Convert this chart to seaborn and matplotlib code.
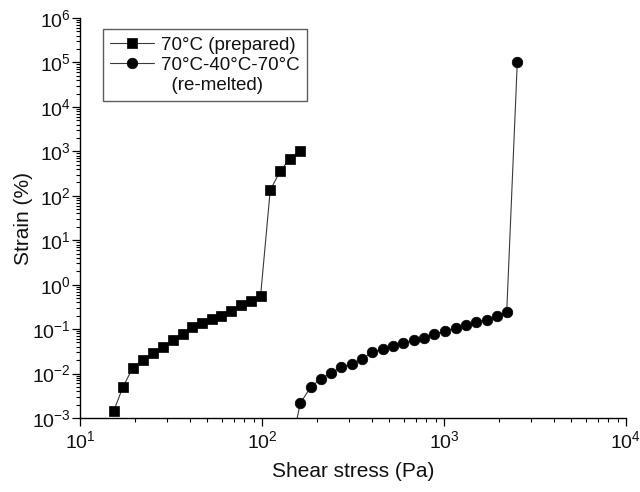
import numpy as np
import pandas as pd
import matplotlib
matplotlib.use("Agg")
import matplotlib.pyplot as plt
from matplotlib.lines import Line2D
from matplotlib.ticker import LogLocator, NullFormatter
import seaborn as sns

# Data
prep_stress = [15.3, 17.2, 19.5, 22.1, 25.1, 28.5, 32.4, 36.6, 41.3, 46.9, 53.1, 59.9,
               67.8, 76.9, 86.9, 98.2, 111, 126, 142, 161]
prep_strain = [0.00142, 0.00494, 0.0135, 0.0205, 0.0288, 0.0387, 0.0556, 0.076, 0.111,
               0.136, 0.168, 0.200, 0.254, 0.347, 0.436, 0.545, 133, 362, 664, 1042]

remelt_stress = [143, 162.5, 185, 211, 240, 273, 311, 355, 404, 461, 526, 597, 683, 774,
                 887, 1011, 1158, 1315, 1506, 1715, 1946, 2213, 2530]
remelt_strain = [0.00019, 0.00215, 0.00494, 0.00763, 0.0104, 0.0139, 0.0163, 0.0215, 0.0299,
                 0.0355, 0.0423, 0.0484, 0.0556, 0.064, 0.077, 0.090, 0.107, 0.121, 0.142,
                 0.163, 0.193, 0.242, 1.03e5]

labels = ["70°C (prepared)", "70°C-40°C-70°C", "(re-melted)"]
x_label = "Shear stress (Pa)"
y_label = "Strain (%)"

sns.set_theme(style="ticks")
plt.rcParams["font.family"] = ["Liberation Sans", "DejaVu Sans"]
plt.rcParams["mathtext.fontset"] = "custom"
plt.rcParams["mathtext.rm"] = "Liberation Sans"
plt.rcParams["mathtext.it"] = "Liberation Sans:italic"
plt.rcParams["mathtext.bf"] = "Liberation Sans:bold"
plt.rcParams["axes.unicode_minus"] = False

df1 = pd.DataFrame({"x": prep_stress, "y": prep_strain})
df2 = pd.DataFrame({"x": remelt_stress, "y": remelt_strain})

fig = plt.figure(figsize=(6.4, 4.92), dpi=100)
ax = fig.add_axes([0.125, 0.1504, 0.853, 0.813])

line_kw = dict(color="#3a3a3a", linewidth=0.8, markersize=7.6,
               markerfacecolor="black", markeredgecolor="black", markeredgewidth=0.5)
sns.lineplot(data=df1, x="x", y="y", sort=False, marker="s", ax=ax, **line_kw)
sns.lineplot(data=df2, x="x", y="y", sort=False, marker="o", ax=ax, **line_kw)

ax.set_xscale("log")
ax.set_yscale("log")
ax.set_xlim(10, 1e4)
ax.set_ylim(1e-3, 1e6)

ax.xaxis.set_major_locator(LogLocator(base=10, numticks=100))
ax.yaxis.set_major_locator(LogLocator(base=10, numticks=100))
ax.xaxis.set_minor_locator(LogLocator(base=10, subs=np.arange(2, 10), numticks=100))
ax.yaxis.set_minor_locator(LogLocator(base=10, subs=np.arange(2, 10), numticks=100))
ax.xaxis.set_minor_formatter(NullFormatter())
ax.yaxis.set_minor_formatter(NullFormatter())

sns.despine(ax=ax)
for s in ["left", "bottom"]:
    ax.spines[s].set_linewidth(1.0)
    ax.spines[s].set_color("black")

ax.tick_params(which="major", direction="out", length=5.8, width=0.9, color="black",
               labelsize=14, labelcolor="#111111")
ax.tick_params(axis="x", which="major", pad=3)
ax.tick_params(axis="y", which="major", pad=1)
ax.tick_params(which="minor", direction="out", length=3.2, width=0.8, color="black")

ax.set_xlabel(x_label, fontsize=15, color="#111111", labelpad=7)
ax.set_ylabel(y_label, fontsize=15, color="#111111")
ax.yaxis.set_label_coords(-0.086, 0.5)

h1 = Line2D([], [], marker="s", **line_kw)
h2 = Line2D([], [], marker="o", **line_kw)
h3 = Line2D([], [], linestyle="none", marker=None)
leg = ax.legend(handles=[h1, h2, h3], labels=[labels[0], labels[1], "  " + labels[2]],
                loc="upper left", bbox_to_anchor=(0.042, 0.9725), borderaxespad=0,
                fontsize=13.5, frameon=True, fancybox=False, shadow=False,
                handlelength=2.3, handletextpad=0.4, labelspacing=0.15, borderpad=0.4)
leg.get_frame().set_edgecolor("#333333")
leg.get_frame().set_linewidth(1.0)
for t in leg.get_texts():
    t.set_color("#111111")

fig.savefig("out.png", dpi=100)
